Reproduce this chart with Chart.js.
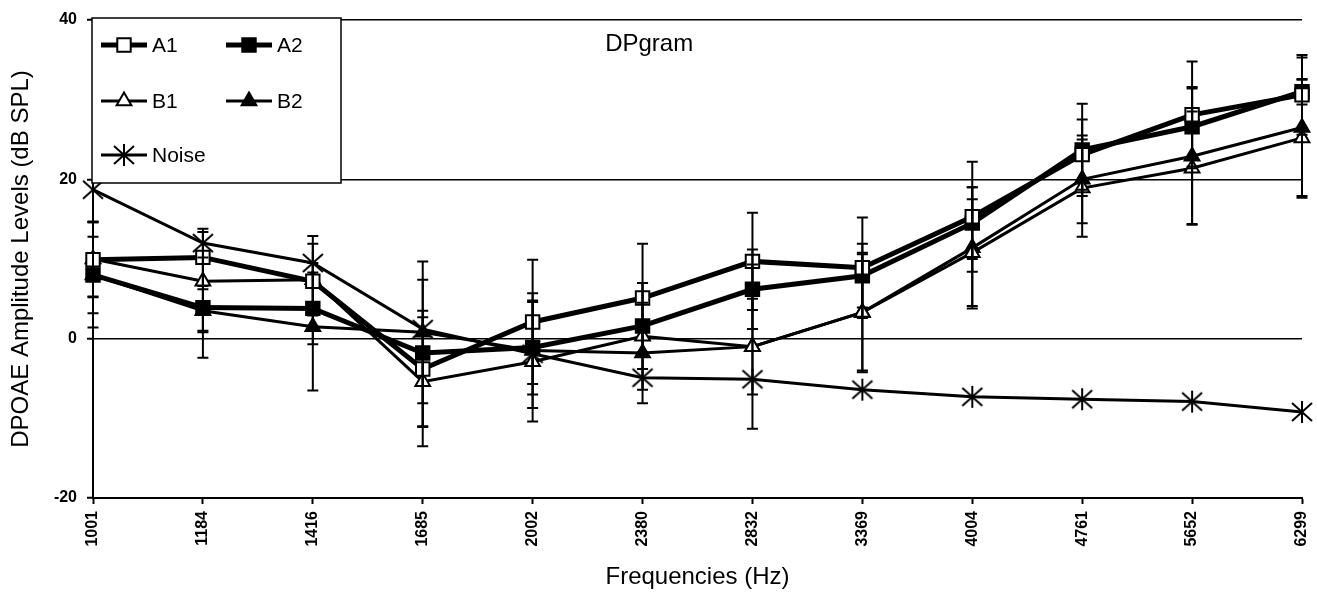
<!DOCTYPE html>
<html><head><meta charset="utf-8">
<script src="https://cdn.jsdelivr.net/npm/chart.js@4.4.1/dist/chart.umd.min.js"></script>
<style>html,body{margin:0;padding:0;background:#fff}</style>
</head><body>
<canvas id="c" width="1317" height="603"></canvas>
<script>
const categories = ['1001','1184','1416','1685','2002','2380','2832','3369','4004','4761','5652','6299'];
const seriesA1 = [9.9, 10.2, 7.2, -3.8, 2.1, 5.1, 9.7, 8.9, 15.3, 23.1, 28.1, 30.6];
const seriesA2 = [8.0, 3.9, 3.8, -1.8, -1.1, 1.6, 6.2, 7.9, 14.5, 23.7, 26.6, 31.0];
const seriesB1 = [10.0, 7.2, 7.4, -5.4, -2.9, 0.3, -1.0, 3.3, 10.8, 18.9, 21.4, 25.2];
const seriesB2 = [8.0, 3.5, 1.5, 0.8, -1.5, -1.8, -1.0, 3.3, 11.4, 20.0, 22.9, 26.5];
const seriesNoise = [18.7, 12.0, 9.5, 1.2, -1.9, -4.9, -5.1, -6.4, -7.3, -7.6, -7.9, -9.2];
const errA1 = [4.7, 3.6, 5.7, 7.3, 7.8, 6.8, 6.1, 6.3, 6.9, 4.4, 6.7, 5.0];
const errA2 = [6.6, 6.3, 4.5, 9.2, 5.9, 5.4, 5.0, 4.0, 4.5, 5.8, 5.0, 1.6];
const errB1 = [4.7, 6.2, 4.5, 8.1, 7.5, 6.7, 6.0, 7.5, 6.7, 6.1, 7.1, 7.3];
const errB2 = [4.8, 2.7, 8.0, 8.9, 7.2, 6.3, 10.3, 7.3, 7.6, 5.5, 8.5, 8.8];
const yTicks = [-20, 0, 20, 40];
const chartTitle = 'DPgram';
const xTitle = 'Frequencies (Hz)';
const yTitle = 'DPOAE Amplitude Levels (dB SPL)';

const FONT = "'Liberation Sans', Arial, sans-serif";

function makeStar() {
  const c = document.createElement('canvas');
  c.width = 24; c.height = 24;
  const g = c.getContext('2d');
  g.strokeStyle = '#000'; g.lineWidth = 2;
  g.beginPath();
  g.moveTo(12, 1); g.lineTo(12, 23);
  g.moveTo(2, 3); g.lineTo(22, 21);
  g.moveTo(22, 3); g.lineTo(2, 21);
  g.stroke();
  return c;
}
const starImg = makeStar();

function mk(label, data, style, fill, bw, radius, err) {
  return {
    label, data, errors: err,
    borderColor: '#000', borderWidth: bw, tension: 0, clip: false,
    pointStyle: style, pointRadius: radius, pointHoverRadius: radius,
    pointBackgroundColor: fill, pointBorderColor: '#000', pointBorderWidth: 2,
    fill: false
  };
}

const datasets = [
  mk('A1', seriesA1, 'rect', '#fff', 5, 9.5, errA1),
  mk('A2', seriesA2, 'rect', '#000', 5, 9.5, errA2),
  mk('B1', seriesB1, 'triangle', '#fff', 3, 8.5, errB1),
  mk('B2', seriesB2, 'triangle', '#000', 3, 8.5, errB2),
  mk('Noise', seriesNoise, starImg, '#000', 3, 10, null)
];

const errorBars = {
  id: 'errorBars',
  afterDatasetsDraw(chart) {
    const {ctx, scales: {x, y}} = chart;
    ctx.save();
    ctx.strokeStyle = '#000'; ctx.lineWidth = 2;
    chart.data.datasets.forEach(ds => {
      if (!ds.errors) return;
      ds.data.forEach((v, i) => {
        const e = ds.errors[i];
        const px = x.getPixelForValue(i);
        const t = y.getPixelForValue(v + e), b = y.getPixelForValue(v - e);
        ctx.beginPath();
        ctx.moveTo(px, t); ctx.lineTo(px, b);
        ctx.moveTo(px - 5.5, t); ctx.lineTo(px + 5.5, t);
        ctx.moveTo(px - 5.5, b); ctx.lineTo(px + 5.5, b);
        ctx.stroke();
      });
    });
    ctx.restore();
  }
};

function drawMarker(ctx, style, fill, r, x, y) {
  ctx.save();
  ctx.fillStyle = fill; ctx.strokeStyle = '#000'; ctx.lineWidth = 2;
  if (style === 'rect') {
    const s = r * Math.SQRT1_2;
    ctx.beginPath(); ctx.rect(x - s, y - s, 2 * s, 2 * s); ctx.fill(); ctx.stroke();
  } else if (style === 'triangle') {
    ctx.beginPath();
    ctx.moveTo(x, y - r);
    ctx.lineTo(x + r * Math.sin(2 * Math.PI / 3), y - r * Math.cos(2 * Math.PI / 3));
    ctx.lineTo(x + r * Math.sin(4 * Math.PI / 3), y - r * Math.cos(4 * Math.PI / 3));
    ctx.closePath(); ctx.fill(); ctx.stroke();
  } else {
    ctx.drawImage(style, x - style.width / 2, y - style.height / 2);
  }
  ctx.restore();
}

const legendBox = {
  id: 'legendBox',
  afterDraw(chart) {
    const {ctx, chartArea: a} = chart;
    ctx.save();
    const bx = a.left - 1, by = a.top - 2, bw = 249, bh = 165;
    ctx.fillStyle = '#fff'; ctx.fillRect(bx, by, bw, bh);
    ctx.strokeStyle = '#000'; ctx.lineWidth = 1.5; ctx.strokeRect(bx, by, bw, bh);
    const cols = [a.left + 8, a.left + 133];
    const rows = [a.top + 25, a.top + 81, a.top + 135];
    const slots = [[0,0],[1,0],[0,1],[1,1],[0,2]];
    chart.data.datasets.forEach((ds, i) => {
      const [c, r] = slots[i];
      const x0 = cols[c], y0 = rows[r];
      ctx.strokeStyle = '#000'; ctx.lineWidth = ds.borderWidth;
      ctx.beginPath(); ctx.moveTo(x0, y0); ctx.lineTo(x0 + 46, y0); ctx.stroke();
      drawMarker(ctx, ds.pointStyle, ds.pointBackgroundColor, ds.pointRadius, x0 + 23, y0);
      ctx.fillStyle = '#000'; ctx.font = '21px ' + FONT;
      ctx.textAlign = 'left'; ctx.textBaseline = 'middle';
      ctx.fillText(ds.label, x0 + 51, y0 + 1);
    });
    ctx.font = '24px ' + FONT; ctx.textAlign = 'center'; ctx.textBaseline = 'middle';
    ctx.fillText(chartTitle, a.left + 0.46 * (a.right - a.left), a.top + 24);
    ctx.restore();
  }
};

new Chart(document.getElementById('c'), {
  type: 'line',
  data: { labels: categories, datasets },
  options: {
    responsive: false, animation: false, devicePixelRatio: 1,
    layout: { padding: { left: 0, right: 15, top: 20, bottom: 0 } },
    plugins: { legend: { display: false }, tooltip: { enabled: false }, title: { display: false } },
    scales: {
      x: {
        type: 'category', offset: false,
        grid: { display: true, drawOnChartArea: false, drawTicks: true, tickLength: 6, tickColor: '#000', tickWidth: 2 },
        border: { display: true, color: '#000', width: 2 },
        ticks: { color: '#000', font: { family: FONT, size: 16, weight: 'bold' }, minRotation: 90, maxRotation: 90, padding: 7, autoSkip: false },
        title: { display: true, text: xTitle, color: '#000', font: { family: FONT, size: 24 }, padding: { top: 0, bottom: 11 } },
        afterFit(s) { s.height = 105; s.paddingLeft = 0; s.paddingRight = 0; }
      },
      y: {
        min: -20, max: 40,
        afterBuildTicks(s) { s.ticks = yTicks.map(v => ({ value: v })); },
        grid: { color: '#000', lineWidth: 1.5, drawTicks: true, tickLength: 6, tickColor: '#000', tickWidth: 2 },
        border: { display: true, color: '#000', width: 2 },
        ticks: { color: '#000', font: { family: FONT, size: 16, weight: 'bold' }, padding: 10 },
        title: { display: true, text: yTitle, color: '#000', font: { family: FONT, size: 24 }, padding: { top: 7, bottom: 0 } },
        afterFit(s) { s.width = 93; }
      }
    }
  },
  plugins: [errorBars, legendBox]
});
</script>
</body></html>
